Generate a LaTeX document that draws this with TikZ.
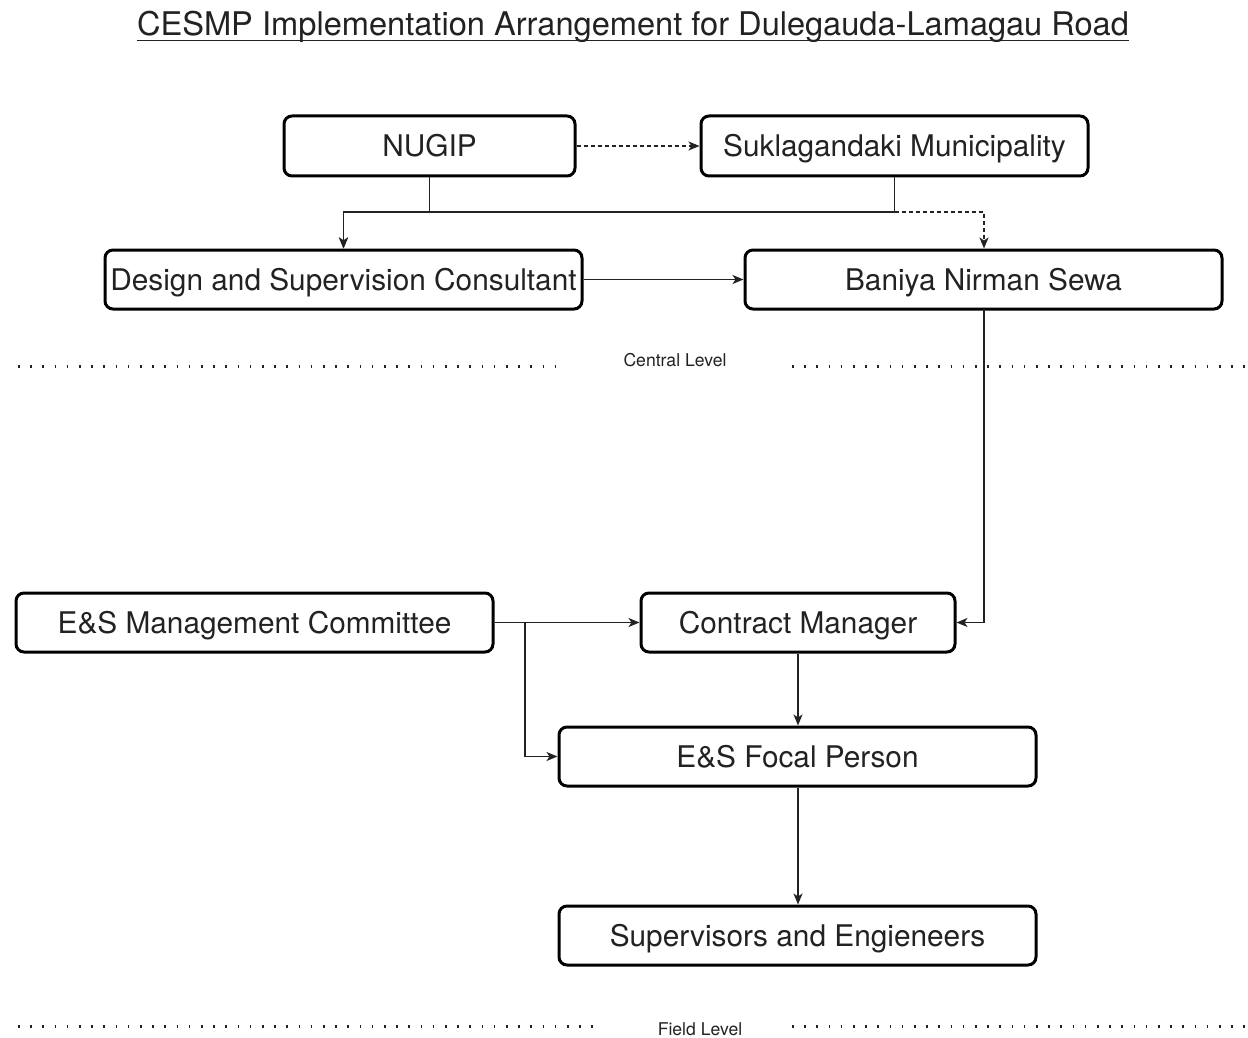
\documentclass[tikz,border=0pt]{standalone}
\usepackage{fontspec}
\setmainfont{TeX Gyre Heros}
\usetikzlibrary{arrows.meta,calc}
\definecolor{txt}{HTML}{222222}
\begin{document}
\begin{tikzpicture}[x=1pt,y=-1pt,
  box/.style={draw=black,line width=3pt,rounded corners=8pt,inner sep=0pt,text=txt,
    text height=21.3pt,text depth=0pt,
    font=\fontsize{29.8}{34}\selectfont},
  conn/.style={line width=1.4pt,draw=txt,-{Stealth[length=11pt,width=9pt,inset=3pt]}},
  dconn/.style={conn,dash pattern=on 4pt off 3pt},
  levelline/.style={line width=3pt,draw=txt,dash pattern=on 1.6pt off 10.6pt},
  levellabel/.style={text=txt,inner sep=0pt,font=\fontsize{17.6}{20}\selectfont}]
\useasboundingbox[fill=white] (0,0) rectangle (1248,1038);

% title
\node[anchor=base,inner sep=0pt,text=txt,font=\fontsize{32.6}{38}\selectfont] (title) at (633,36)
  {CESMP Implementation Arrangement for Dulegauda-Lamagau Road};
\draw[line width=1.6pt,txt] ([yshift=-4.5pt]title.base west) -- ([yshift=-4.5pt]title.base east);

% boxes
\node[box,minimum width=291pt,minimum height=60pt] (nugip) at (429.5,146) {NUGIP};
\node[box,minimum width=387pt,minimum height=60pt] (sukla) at (894.5,146) {Suklagandaki Municipality};
\node[box,minimum width=477pt,minimum height=59pt] (dsc) at (343.5,279.5) {Design and Supervision Consultant};
\node[box,minimum width=477pt,minimum height=59pt] (baniya) at (983.5,279.5) {Baniya Nirman Sewa};
\node[box,minimum width=477pt,minimum height=59pt] (esmc) at (254.5,622.5) {E\&S Management Committee};
\node[box,minimum width=314pt,minimum height=59pt] (cm) at (798,622.5) {Contract Manager};
\node[box,minimum width=477pt,minimum height=59pt] (focal) at (797.5,756.5) {E\&S Focal Person};
\node[box,minimum width=477pt,minimum height=59pt] (sup) at (797.5,935.5) {Supervisors and Engieneers};

% junction coordinates
\coordinate (jn) at (nugip.south |- 0,212);
\coordinate (js) at (sukla.south |- 0,212);
\coordinate (jb) at (984,212);
\coordinate (jbot) at (984,309);
\coordinate (jm) at (525,622.5);

% connectors
\draw[dconn] (nugip.east) -- (sukla.west);
\draw[conn] (nugip.south) -- (jn) -| (dsc.north);
\draw[conn] (sukla.south) -- (js) -| (dsc.north);
\draw[dconn] (js) -| (jb |- baniya.north);
\draw[conn] (dsc.east) -- (baniya.west);
\draw[conn] (jbot) |- (cm.east);
\draw[conn] (esmc.east) -- (cm.west);
\draw[conn] (jm) |- (focal.west);
\draw[conn] (cm.south) -- (focal.north -| cm.south);
\draw[conn] (focal.south -| cm.south) -- (sup.north -| cm.south);

% level separators
\node[levellabel] (central) at (675,360) {Central Level};
\draw[levelline] (18,366) -- (556,366);
\draw[levelline] (792,366) -- (1248,366);
\node[levellabel] (field) at (700,1029) {Field Level};
\draw[levelline] (18,1026) -- (600,1026);
\draw[levelline] (792,1026) -- (1248,1026);
\end{tikzpicture}
\end{document}
